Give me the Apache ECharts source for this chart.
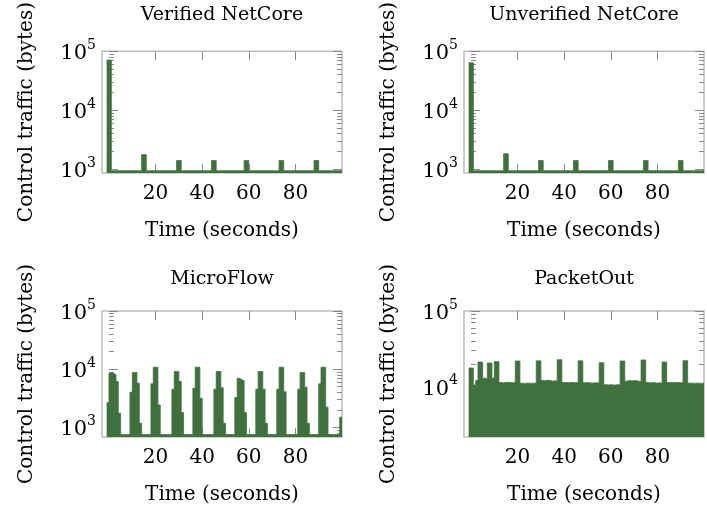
<!DOCTYPE html>
<html>
<head>
<meta charset="utf-8">
<script src="https://cdn.jsdelivr.net/npm/echarts@6/dist/echarts.min.js"></script>
<style>html,body{margin:0;padding:0;background:#fff}#c{width:707px;height:508px}</style>
</head>
<body>
<div id="c"></div>
<script>
// ---- data (bins of one second, t = -1 .. 99) ----
const binStart = [-1,0,1,2,3,4,5,6,7,8,9,10,11,12,13,14,15,16,17,18,19,20,21,22,23,24,25,26,27,28,29,30,31,32,33,34,35,36,37,38,39,40,41,42,43,44,45,46,47,48,49,50,51,52,53,54,55,56,57,58,59,60,61,62,63,64,65,66,67,68,69,70,71,72,73,74,75,76,77,78,79,80,81,82,83,84,85,86,87,88,89,90,91,92,93,94,95,96,97,98,99];
const binEnd = 100;

const titles = ['Verified NetCore', 'Unverified NetCore', 'MicroFlow', 'PacketOut'];

const verified = [70500,70500,
 940,940,940,940,940,940,940,940,940,940,940,940,940,
 1760,1760,
 940,940,940,940,940,940,940,940,940,940,940,940,940,
 1400,1400,
 940,940,940,940,940,940,940,940,940,940,940,940,940,
 1400,1400,
 940,940,940,940,940,940,940,940,940,940,940,940,
 1400,1400,
 940,940,940,940,940,940,940,940,940,940,940,940,940,
 1400,1400,
 940,940,940,940,940,940,940,940,940,940,940,940,940,
 1400,1400,
 940,940,940,940,940,940,940,940,940,940];

const unverified = [63500,63500,
 940,940,940,940,940,940,940,940,940,940,940,940,940,
 1820,1820,
 940,940,940,940,940,940,940,940,940,940,940,940,940,
 1400,1400,
 940,940,940,940,940,940,940,940,940,940,940,940,940,
 1400,1400,
 940,940,940,940,940,940,940,940,940,940,940,940,940,
 1400,1400,
 940,940,940,940,940,940,940,940,940,940,940,940,940,
 1400,1400,
 940,940,940,940,940,940,940,940,940,940,940,940,940,
 1400,1400,
 940,940,940,940,940,940,940,940,940];

const microflow = [2650,8500,8500,8000,6100,1740,
 750,750,750,750,
 4000,8760,8760,5730,1170,
 750,750,750,750,
 5590,10800,10800,2420,
 750,750,750,750,750,
 4520,9100,9100,6120,1790,
 750,750,750,750,
 4700,10800,10800,3160,
 750,750,750,750,750,
 4520,9100,9100,4800,1170,
 750,750,750,750,
 3240,6950,6600,6290,1790,
 750,750,750,750,
 4520,9100,9100,4520,1170,
 750,750,750,750,
 4520,10800,10800,4100,
 750,750,750,750,750,
 4520,8760,8760,4900,1170,
 750,750,750,750,
 5590,10800,10800,2220,
 750,750,750,750,750,
 1490];

const packetout = [17600,17600,10500,12000,21100,21100,12900,12500,20500,20500,12900,21350,21350,
 11300,11200,11300,11400,11300,11200,11300,
 21800,21800,
 11100,11000,11100,11100,11000,11100,11100,
 21900,21900,
 12000,11900,12100,12000,11800,11900,11800,
 22700,22700,
 11300,11300,11200,11300,11300,11200,11300,
 21900,21900,
 11200,11300,11200,11100,11200,11200,11100,
 20700,20700,
 10600,10500,10600,10500,10500,10600,10500,
 21800,21800,
 11800,12000,11900,11900,12000,11800,11700,
 22500,22500,
 11300,11200,11300,11200,11100,11200,11100,
 21100,21100,
 11300,11300,11200,11300,11300,11200,11300,
 22000,22000,
 11100,11100,11000,11100,11100,11000,11100];

const xMin = -3, xMax = 100;
const xTickValues = [20, 40, 60, 80];
const yMins = [860, 860, 680, 2150];
const yMax = 100000;
const yMajorTicks = [[1000,10000,100000],[1000,10000,100000],[1000,10000,100000],[10000,100000]];
const yMinorTicks = [
 [900,2000,3000,4000,5000,6000,7000,8000,9000,20000,30000,40000,50000,60000,70000,80000,90000],
 [900,2000,3000,4000,5000,6000,7000,8000,9000,20000,30000,40000,50000,60000,70000,80000,90000],
 [700,800,900,2000,3000,4000,5000,6000,7000,8000,9000,20000,30000,40000,50000,60000,70000,80000,90000],
 [3000,4000,5000,6000,7000,8000,9000,20000,30000,40000,50000,60000,70000,80000,90000]
];
const seriesValues = [verified, unverified, microflow, packetout];

// ---- layout / style ----
const FONT = 'DejaVu Serif';
const GREEN = '#41703f';
const FRAME = '#bdbdbd';
const TICK = '#8a8a8a';
const grids = [
  {left: 102, top: 47, width: 240, height: 126},
  {left: 464, top: 47, width: 240, height: 126},
  {left: 102, top: 311, width: 240, height: 126},
  {left: 464, top: 311, width: 240, height: 126}
];

const option = {
  animation: false,
  backgroundColor: '#fff',
  textStyle: {fontFamily: FONT},
  title: [], grid: [], xAxis: [], yAxis: [], series: []
};

grids.forEach((g, i) => {
  option.title.push({
    text: titles[i], left: g.left + g.width / 2, top: g.top - 41, textAlign: 'center', padding: 0,
    textStyle: {fontFamily: FONT, fontSize: 19, fontWeight: 'normal', color: '#000'}
  });
  option.grid.push(Object.assign({show: true, borderColor: FRAME, borderWidth: 1.5, backgroundColor: 'transparent'}, g));
  const xb = option.xAxis.length;
  option.xAxis.push({
    type: 'value', gridIndex: i, position: 'bottom', min: xMin, max: xMax,
    name: 'Time (seconds)', nameLocation: 'middle', nameGap: 48,
    nameTextStyle: {fontFamily: FONT, fontSize: 20, color: '#000'},
    axisLine: {show: false}, splitLine: {show: false},
    axisTick: {show: true, inside: true, length: 9, customValues: xTickValues, lineStyle: {color: TICK, width: 1}},
    axisLabel: {show: true, margin: 11, customValues: xTickValues, fontFamily: FONT, fontSize: 20, color: '#000'}
  });
  option.xAxis.push({
    type: 'value', gridIndex: i, position: 'top', min: xMin, max: xMax,
    axisLine: {show: false}, splitLine: {show: false}, axisLabel: {show: false},
    axisTick: {show: true, inside: true, length: 9, customValues: xTickValues, lineStyle: {color: TICK, width: 1}}
  });
  const yb = option.yAxis.length;
  const common = {type: 'log', logBase: 10, gridIndex: i, min: yMins[i], max: yMax, axisLine: {show: false}, splitLine: {show: false}};
  option.yAxis.push(Object.assign({}, common, {
    position: 'left',
    name: 'Control traffic (bytes)', nameLocation: 'middle', nameGap: 65,
    nameTextStyle: {fontFamily: FONT, fontSize: 20, color: '#000'},
    axisTick: {show: true, inside: true, length: 9, customValues: yMajorTicks[i], lineStyle: {color: TICK, width: 1}},
    axisLabel: {
      show: true, margin: 6, customValues: yMajorTicks[i],
      formatter: v => '{b|10}{s|' + Math.round(Math.log10(v)) + '}',
      rich: {
        b: {fontFamily: FONT, fontSize: 21, lineHeight: 26, verticalAlign: 'bottom', color: '#000'},
        s: {fontFamily: FONT, fontSize: 14, lineHeight: 14, verticalAlign: 'top', color: '#000'}
      }
    }
  }));
  option.yAxis.push(Object.assign({}, common, {
    position: 'left', axisLabel: {show: false},
    axisTick: {show: true, inside: true, length: 5, customValues: yMinorTicks[i], lineStyle: {color: TICK, width: 1}}
  }));
  option.yAxis.push(Object.assign({}, common, {
    position: 'right', axisLabel: {show: false},
    axisTick: {show: true, inside: true, length: 9, customValues: yMajorTicks[i], lineStyle: {color: TICK, width: 1}}
  }));
  option.yAxis.push(Object.assign({}, common, {
    position: 'right', axisLabel: {show: false},
    axisTick: {show: true, inside: true, length: 5, customValues: yMinorTicks[i], lineStyle: {color: TICK, width: 1}}
  }));
  const vals = seriesValues[i];
  const pts = binStart.map((t, k) => [t, vals[k]]);
  pts.push([binEnd, vals[vals.length - 1]]);
  option.series.push({
    type: 'line', xAxisIndex: xb, yAxisIndex: yb, step: 'end', data: pts,
    symbol: 'none', showSymbol: false, silent: true,
    lineStyle: {color: GREEN, width: 0.8},
    areaStyle: {color: GREEN, opacity: 1, origin: 'start'}
  });
});

const chart = echarts.init(document.getElementById('c'), null, {renderer: 'canvas'});
chart.setOption(option);
</script>
</body>
</html>
